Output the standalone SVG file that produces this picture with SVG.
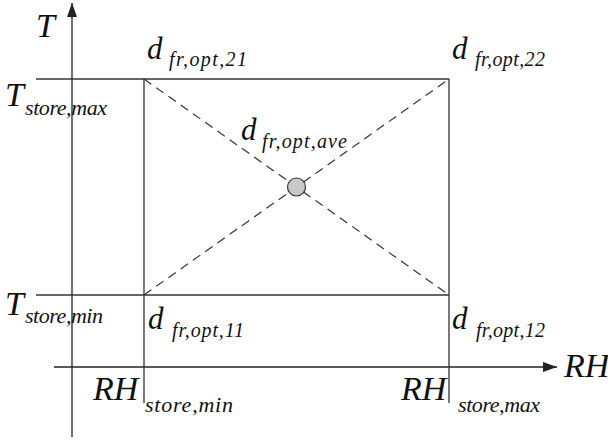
<svg xmlns="http://www.w3.org/2000/svg" width="608" height="441" viewBox="0 0 608 441" font-family="'Liberation Serif', 'DejaVu Serif', serif" font-style="italic">
<defs>
<marker id="arr" viewBox="0 0 14 10" refX="14" refY="5" markerWidth="14" markerHeight="10" markerUnits="userSpaceOnUse" orient="auto">
<path d="M0,0 L14,5 L0,10 Z" fill="#222"/>
</marker>
<style>
.ln{stroke:#333;stroke-width:1.3;fill:none}
.ax{stroke:#222;stroke-width:1.3;fill:none}
.ds{stroke:#333;stroke-width:1.2;fill:none;stroke-dasharray:9 6}
.t{font-family:'Liberation Serif','DejaVu Serif',serif;font-style:italic;fill:#111}
.big{font-size:34px}
.d{font-size:31px}
.sub{font-size:20px}
.sub2{font-size:22px}
</style>
</defs>
<rect width="608" height="441" fill="#fff"/>
<g id="connectors">
<line class="ax" x1="72" y1="437" x2="72" y2="3" marker-end="url(#arr)"/>
<line class="ax" x1="54" y1="367" x2="557" y2="367" marker-end="url(#arr)"/>
<line class="ln" x1="36" y1="79" x2="449" y2="79"/>
<line class="ln" x1="36" y1="295" x2="449" y2="295"/>
<line class="ln" x1="144" y1="79" x2="144" y2="403"/>
<line class="ln" x1="449" y1="79" x2="449" y2="403"/>
<line class="ds" x1="144" y1="79" x2="449" y2="295"/>
<line class="ds" x1="144" y1="295" x2="449" y2="79"/>
</g>
<g id="node-ave">
<circle cx="296.5" cy="187" r="9" fill="#c8c8c8" stroke="#333" stroke-width="1.2"/>
<text class="t d" x="241" y="140">d</text>
<text class="t sub" x="262" y="148" textLength="85" lengthAdjust="spacing">fr,opt,ave</text>
</g>
<g id="node-21">
<text class="t d" x="147" y="59">d</text>
<text class="t sub" x="169" y="66" textLength="78" lengthAdjust="spacing">fr,opt,21</text>
</g>
<g id="node-22">
<text class="t d" x="452" y="59">d</text>
<text class="t sub" x="475" y="66" textLength="70" lengthAdjust="spacing">fr,opt,22</text>
</g>
<g id="node-11">
<text class="t d" x="148" y="329">d</text>
<text class="t sub" x="172" y="337" textLength="72" lengthAdjust="spacing">fr,opt,11</text>
</g>
<g id="node-12">
<text class="t d" x="452" y="329">d</text>
<text class="t sub" x="476" y="337" textLength="69" lengthAdjust="spacing">fr,opt,12</text>
</g>
<g id="axis-labels">
<text class="t big" x="36" y="37">T</text>
<text class="t big" x="564" y="377">RH</text>
<text class="t big" x="5" y="106">T</text>
<text class="t sub2" x="25" y="115" textLength="82" lengthAdjust="spacing">store,max</text>
<text class="t big" x="5" y="315">T</text>
<text class="t sub2" x="25" y="323" textLength="78" lengthAdjust="spacing">store,min</text>
<text class="t big" x="93" y="400">RH</text>
<text class="t sub2" x="145" y="412" textLength="88" lengthAdjust="spacing">store,min</text>
<text class="t big" x="401" y="400">RH</text>
<text class="t sub2" x="458" y="412" textLength="82" lengthAdjust="spacing">store,max</text>
</g>
</svg>
